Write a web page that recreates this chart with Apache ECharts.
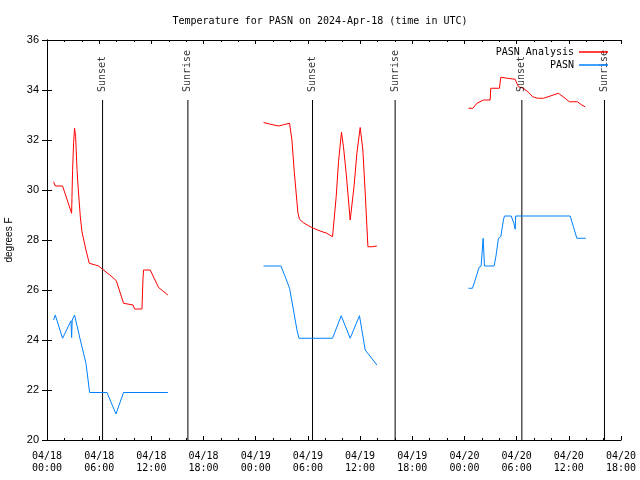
<!DOCTYPE html>
<html>
<head>
<meta charset="utf-8">
<script src="https://cdn.jsdelivr.net/npm/echarts@6/dist/echarts.min.js"></script>
<style>html,body{margin:0;padding:0;background:#fff}#c{width:640px;height:480px}</style>
</head>
<body>
<div id="c"></div>
<script>
// Hours since 2024-04-18 00:00 UTC
const analysisHours = [
  [0.76,0.95,1.79,2.83,2.87,2.94,3.06,3.17,3.29,3.45,3.56,3.83,4.02,4.48,4.86,5.55,5.93,6.5,7.47,7.97,8.8,9.0,9.89,10.07,10.92,11.03,11.1,11.87,12.83,13.33,13.9],
  [24.9,25.59,26.62,27.2,27.89,28.16,28.43,28.85,29.03,29.49,30.07,30.64,31.41,32.18,32.83,33.25,33.52,33.86,34.09,34.4,34.86,35.06,35.32,35.63,36.01,36.32,36.59,36.9,37.36,37.93],
  [48.46,48.97,49.43,50.18,50.95,51.03,52.02,52.18,52.94,53.83,54.02,54.21,54.78,55.29,55.86,56.39,57.08,58.23,58.8,59.57,60.07,60.99,61.49,61.87]
];
const analysisTemps = [
  [30.33,30.16,30.16,29.07,29.7,30.77,31.9,32.47,32.13,30.83,30.2,28.93,28.33,27.6,27.07,27.0,26.96,26.8,26.53,26.37,25.47,25.4,25.4,25.24,25.24,26.4,26.8,26.8,26.1,25.96,25.8],
  [32.7,32.64,32.56,32.61,32.67,32.0,30.73,29.09,28.83,28.69,28.57,28.47,28.36,28.27,28.13,29.73,31.13,32.31,31.73,30.67,28.8,29.4,30.2,31.47,32.5,31.6,29.87,27.73,27.73,27.76],
  [33.27,33.27,33.47,33.6,33.6,34.07,34.07,34.51,34.47,34.43,34.27,34.13,34.07,33.93,33.73,33.67,33.67,33.8,33.87,33.67,33.53,33.53,33.4,33.33]
];
const obsHours = [
  [0.76,0.95,1.79,2.76,2.83,2.9,3.17,3.83,4.48,4.9,6.9,7.93,8.8,13.9],
  [24.9,26.9,27.39,27.89,28.34,28.74,28.97,32.83,33.83,34.86,35.93,36.59,37.93],
  [48.46,48.92,49.23,49.69,49.92,50.03,50.15,50.3,51.41,51.61,51.91,52.18,52.48,52.6,53.37,53.68,53.84,53.89,60.15,60.53,60.92,61.95]
];
const obsTemps = [
  [24.8,25.0,24.07,24.77,24.1,24.8,25.0,24.0,23.07,21.9,21.9,21.04,21.9,21.9],
  [26.96,26.96,26.53,26.07,25.2,24.4,24.07,24.07,24.97,24.07,24.97,23.6,23.0],
  [26.07,26.07,26.4,26.91,26.96,26.96,28.07,26.96,26.96,27.33,28.07,28.13,28.8,28.96,28.96,28.67,28.43,28.96,28.96,28.53,28.07,28.07]
];
const sunHours = [6.39, 16.2, 30.53, 40.03, 54.6, 64.1];
const sunLabels = ['Sunset', 'Sunrise', 'Sunset', 'Sunrise', 'Sunset', 'Sunrise'];
const tickLabels = ['04/18\n00:00','04/18\n06:00','04/18\n12:00','04/18\n18:00','04/19\n00:00','04/19\n06:00','04/19\n12:00','04/19\n18:00','04/20\n00:00','04/20\n06:00','04/20\n12:00','04/20\n18:00'];
const seriesNames = ['PASN Analysis', 'PASN'];

function joinSegments(hrs, vals) {
  const out = [];
  hrs.forEach((h, i) => {
    if (i > 0) out.push([(hrs[i-1][hrs[i-1].length-1] + h[0]) / 2, '-']);
    h.forEach((t, j) => out.push([t, vals[i][j]]));
  });
  return out;
}
const sunLineData = [];
sunHours.forEach((t, i) => {
  if (i > 0) sunLineData.push([t - 1, '-']);
  sunLineData.push([t, 20]);
  sunLineData.push([t, 33.6]);
});

const mono = 'DejaVu Sans Mono';
const chart = echarts.init(document.getElementById('c'), null, {renderer: 'canvas'});
const xBase = {
  type: 'value', min: 0, max: 66, interval: 6,
  axisLine: {show: true, lineStyle: {color: '#000', width: 1}},
  axisTick: {show: true, inside: true, length: 4, lineStyle: {color: '#000'}},
  minorTick: {show: true, splitNumber: 3, length: 2, lineStyle: {color: '#000'}},
  splitLine: {show: false}
};
const yBase = {
  type: 'value', min: 20, max: 36, interval: 2,
  axisLine: {show: true, lineStyle: {color: '#000', width: 1}},
  axisTick: {show: true, inside: true, length: 5, lineStyle: {color: '#000'}},
  splitLine: {show: false}
};
chart.setOption({
  animation: false,
  backgroundColor: '#fff',
  title: {
    text: 'Temperature for PASN on 2024-Apr-18 (time in UTC)',
    left: 'center', top: 11,
    textStyle: {fontFamily: mono, fontSize: 10, fontWeight: 'normal', color: '#000'}
  },
  grid: {left: 47, right: 19, top: 40, bottom: 40, containLabel: false, outerBoundsMode: 'none'},
  legend: {
    data: seriesNames,
    orient: 'vertical', right: 27, top: 42, align: 'right',
    icon: 'rect', itemWidth: 29, itemHeight: 1.5, itemGap: 3,
    textStyle: {fontFamily: mono, fontSize: 10, color: '#000', lineHeight: 10}
  },
  xAxis: [
    Object.assign({}, xBase, {
      position: 'bottom',
      axisLabel: {
        fontFamily: mono, fontSize: 10, color: '#000', lineHeight: 12, margin: 10,
        formatter: v => tickLabels[Math.round(v / 6)]
      }
    }),
    Object.assign({}, xBase, {position: 'top', axisLabel: {show: false}})
  ],
  yAxis: [
    Object.assign({}, yBase, {
      position: 'left',
      name: 'degrees F', nameLocation: 'middle', nameGap: 33, nameRotate: 90,
      nameTextStyle: {fontFamily: 'Liberation Sans', fontSize: 10, color: '#000'},
      axisLabel: {fontFamily: 'Liberation Sans', fontSize: 11, color: '#000', margin: 8}
    }),
    Object.assign({}, yBase, {position: 'right', axisLabel: {show: false}})
  ],
  series: [
    {
      name: 'sunlines', type: 'line', data: sunLineData, showSymbol: false, symbol: 'none',
      lineStyle: {color: '#000', width: 1}, silent: true, z: 1
    },
    {
      name: 'sunlabels', type: 'scatter', symbolSize: 0, silent: true, z: 3,
      data: sunHours.map((t, i) => [t, 33.6, sunLabels[i]]),
      label: {
        show: true, position: 'top', distance: 8, rotate: 90, align: 'left', verticalAlign: 'middle',
        formatter: p => p.data[2],
        fontFamily: mono, fontSize: 10, color: '#000'
      }
    },
    {
      name: seriesNames[0], type: 'line', data: joinSegments(analysisHours, analysisTemps),
      showSymbol: false, symbol: 'none', connectNulls: false,
      lineStyle: {color: '#ff0000', width: 1}, itemStyle: {color: '#ff0000'}, z: 2
    },
    {
      name: seriesNames[1], type: 'line', data: joinSegments(obsHours, obsTemps),
      showSymbol: false, symbol: 'none', connectNulls: false,
      lineStyle: {color: '#0080ff', width: 1}, itemStyle: {color: '#0080ff'}, z: 2
    }
  ]
});
</script>
</body>
</html>
